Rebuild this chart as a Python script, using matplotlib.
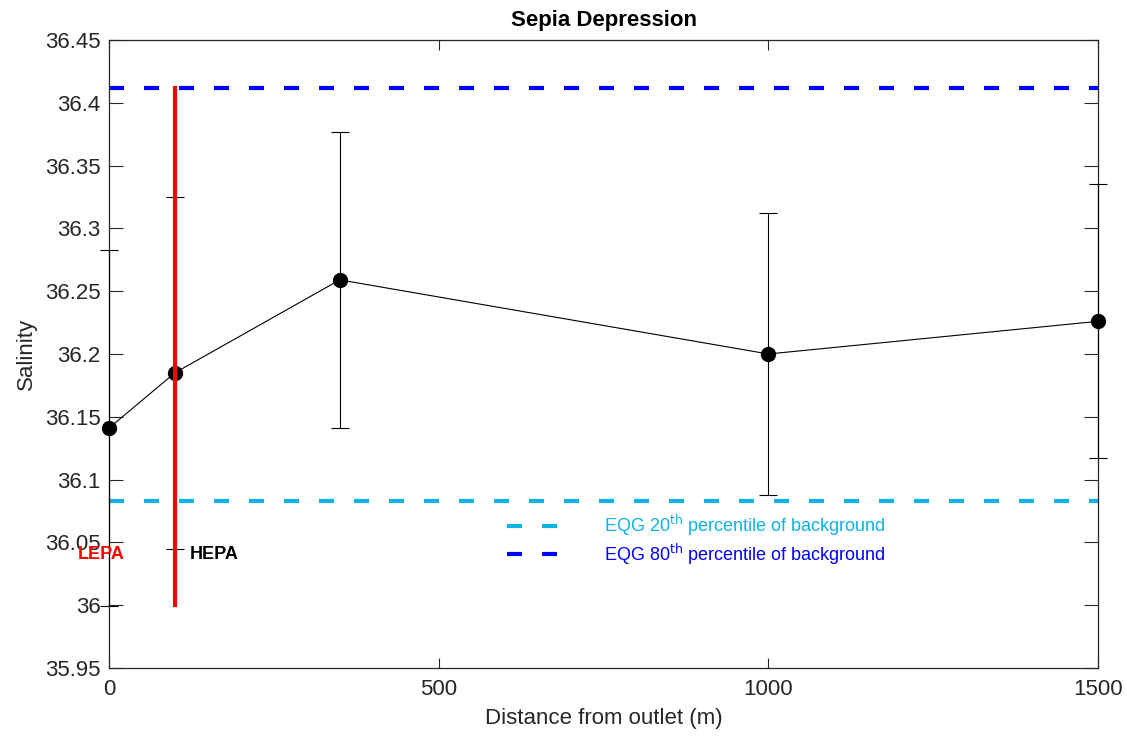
import numpy as np
import matplotlib
matplotlib.use('Agg')
import matplotlib.pyplot as plt

plt.rcParams['font.family'] = ['Liberation Sans', 'DejaVu Sans']

# data
distance = [0, 100, 350, 1000, 1500]
salinity = [36.141, 36.185, 36.259, 36.200, 36.226]
err = [0.142, 0.140, 0.118, 0.112, 0.109]

eqg20 = 36.083
eqg80 = 36.412
hepa_x = 100
hepa_ymin, hepa_ymax = 36.0, 36.412

fig = plt.figure(figsize=(11.27, 7.4), dpi=100)
ax = fig.add_axes([0.0967, 0.0973, 0.8776, 0.8487])

ax.errorbar(distance, salinity, yerr=err, color='black', lw=0.8, elinewidth=0.8,
            capsize=6.5, capthick=0.8, marker='o', markersize=10,
            markerfacecolor='black', markeredgecolor='black', clip_on=False, zorder=3)

ax.axhline(eqg20, color='#0DB2E6', lw=3, ls=(0, (3.6, 4.8)),
           label='EQG 20$^{\\mathrm{th}}$ percentile of background', zorder=2)
ax.axhline(eqg80, color='#0000FF', lw=3, ls=(0, (3.6, 4.8)),
           label='EQG 80$^{\\mathrm{th}}$ percentile of background', zorder=2)

ax.plot([hepa_x, hepa_x], [hepa_ymin, hepa_ymax], color='#FF0000', lw=3, zorder=4)

ax.text(-12, 36.04, 'LEPA', color='#FF0000', fontsize=13, fontweight='bold',
        ha='center', va='center', zorder=5)
ax.text(123, 36.04, 'HEPA', color='black', fontsize=13, fontweight='bold',
        ha='left', va='center', zorder=5)

ax.set_xlim(0, 1500)
ax.set_ylim(35.95, 36.45)
ax.set_xticks([0, 500, 1000, 1500])
ax.set_yticks(np.arange(35.95, 36.46, 0.05))
ax.set_yticklabels(['35.95', '36', '36.05', '36.1', '36.15', '36.2', '36.25',
                    '36.3', '36.35', '36.4', '36.45'])

ax.tick_params(direction='in', which='both', top=True, right=True,
               labelsize=16, colors='#262626', length=7, width=0.8, pad=8)
ax.tick_params(axis='y', length=10, pad=6)
for s in ax.spines.values():
    s.set_color('#262626')
    s.set_linewidth(0.9)

ax.set_xlabel('Distance from outlet (m)', fontsize=16, color='#262626', labelpad=6)
ax.set_ylabel('Salinity', fontsize=16, color='#262626', labelpad=6)
ax.set_title('Sepia Depression', fontsize=16, fontweight='bold', pad=10)

ax.legend(loc='center', bbox_to_anchor=(0.594, 0.204), frameon=False, fontsize=13,
          handlelength=2.8, handletextpad=2.6, labelspacing=0.2, labelcolor='linecolor')

fig.savefig('out.png', dpi=100)
